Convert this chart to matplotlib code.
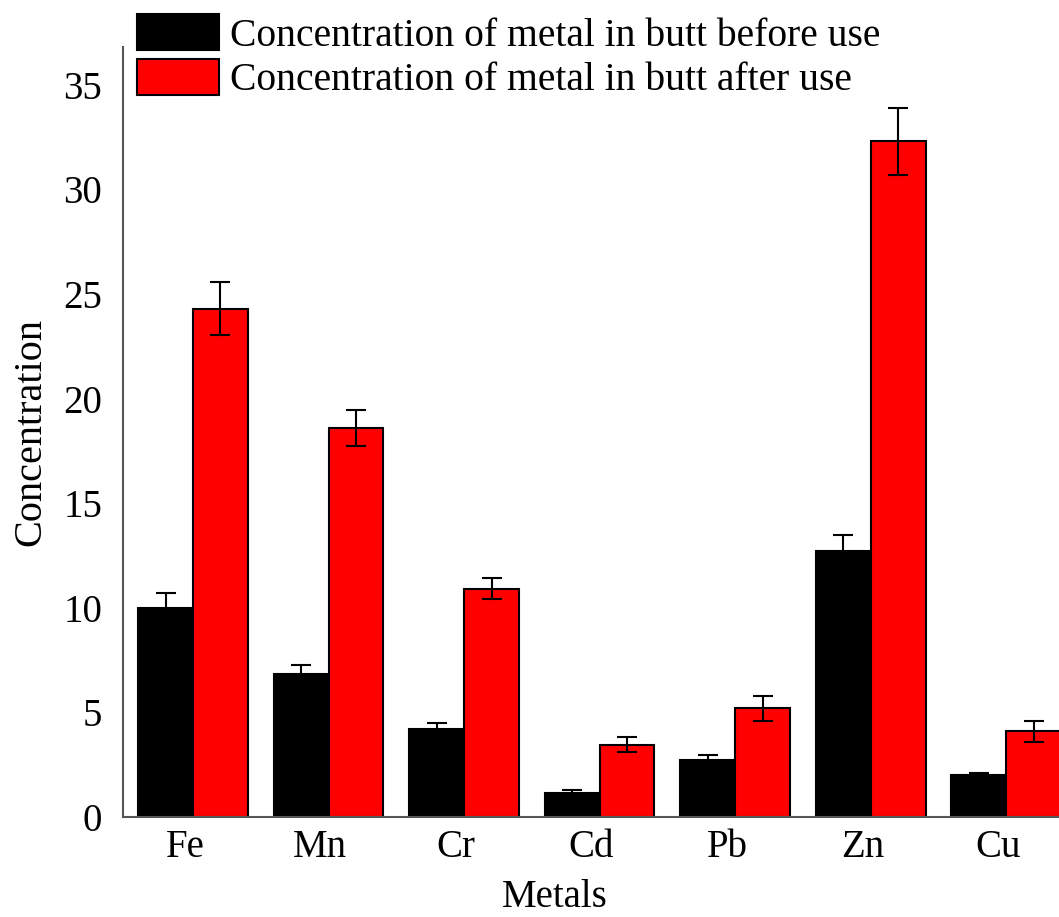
import matplotlib.pyplot as plt
import numpy as np

metals = ["Fe", "Mn", "Cr", "Cd", "Pb", "Zn", "Cu"]
before = [10.0, 6.85, 4.2, 1.15, 2.7, 12.7, 2.0]
before_err = [0.7, 0.4, 0.3, 0.15, 0.25, 0.8, 0.1]
after = [24.3, 18.6, 10.9, 3.45, 5.2, 32.3, 4.1]
after_err = [1.25, 0.85, 0.5, 0.35, 0.6, 1.6, 0.5]

plt.rcParams["font.family"] = ["Liberation Serif", "DejaVu Serif"]

fig = plt.figure(figsize=(10.59, 9.17), dpi=100)
ax = fig.add_axes([0.1161, 0.1091, 0.8839, 0.8396])

x = np.arange(len(metals))
w = 0.405
err_kw = dict(ecolor="black", elinewidth=1.5, capsize=7, capthick=1.5)

ax.bar(x - w / 2, before, w, yerr=before_err, color="black", edgecolor="black",
       linewidth=1.5, error_kw=err_kw, label="Concentration of metal in butt before use")
ax.bar(x + w / 2, after, w, yerr=after_err, color="#ff0000", edgecolor="black",
       linewidth=1.5, error_kw=err_kw, label="Concentration of metal in butt after use")

ax.set_xlim(-0.517, 6.39)
ax.set_ylim(0, 36.8)
ax.set_yticks([0, 5, 10, 15, 20, 25, 30, 35])
# labels sit a little left of the bar pairs
ax.set_xticks(x - 0.06)
ax.set_xticklabels(metals)
ax.tick_params(axis="both", length=0, labelsize=28)
ax.tick_params(axis="y", pad=15)
ax.tick_params(axis="x", pad=9)

for s in ["top", "right"]:
    ax.spines[s].set_visible(False)
for s in ["left", "bottom"]:
    ax.spines[s].set_color("#555555")
    ax.spines[s].set_linewidth(1.5)

ax.set_xlabel("Metals", fontsize=28)
ax.xaxis.set_label_coords(0.4615, -0.08)
ax.set_ylabel("Concentration", fontsize=29, labelpad=10)

fig.legend(loc="upper left", bbox_to_anchor=(137 / 1059, 1 - 14 / 917), frameon=False,
           fontsize=28.5, handlelength=2.07, handleheight=1.03, handletextpad=0.28,
           labelspacing=0.1, borderpad=0, borderaxespad=0)

fig.savefig("out.png", dpi=100)
